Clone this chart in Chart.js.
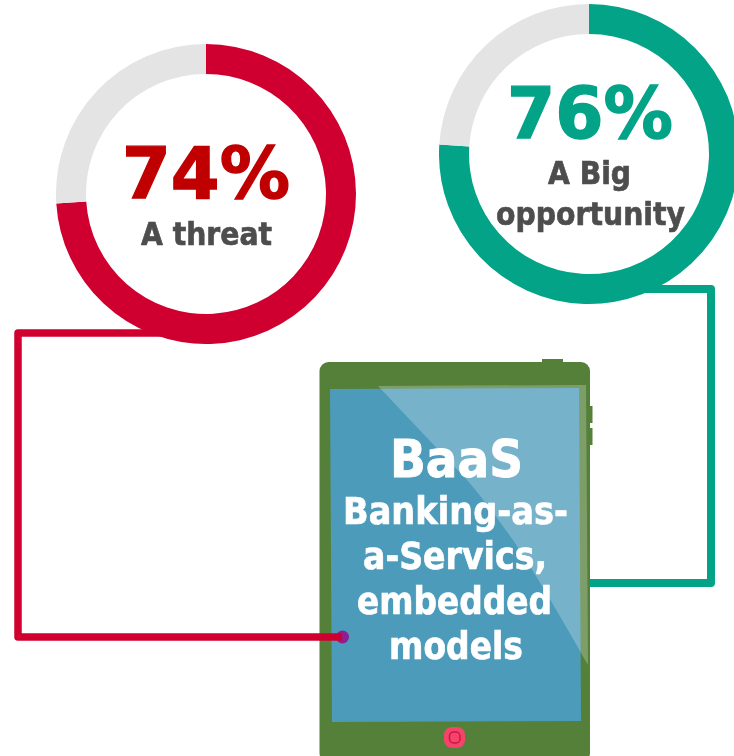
<!DOCTYPE html>
<html>
<head>
<meta charset="utf-8">
<title>BaaS</title>
<script src="https://cdn.jsdelivr.net/npm/chart.js@4"></script>
<style>
  html, body { margin: 0; padding: 0; background: #fff; }
  #page { position: relative; width: 734px; height: 756px; overflow: hidden; }
  #art { position: absolute; left: 0; top: 0; }
  .ring { position: absolute; width: 300px; height: 300px; }
  #threatRing { left: 56px; top: 44px; }
  #opportunityRing { left: 439px; top: 4px; }
  #labels { position: absolute; left: 0; top: 0; }
  #labels text { font-family: "DejaVu Sans", sans-serif; font-weight: 700; paint-order: stroke; }
  .big { stroke-width: 1.4px; }
  .mid { stroke-width: 0.9px; }
  .small { stroke-width: 0.7px; }
</style>
</head>
<body>
<div id="page">
  <svg id="art" width="734" height="756">
    <!-- teal connector runs behind the tablet -->
    <polyline points="645,289 711,289 711,583 585,583" fill="none" stroke="#03a388" stroke-width="8" stroke-linejoin="round"/>
    <!-- tablet -->
    <rect x="542" y="359" width="21" height="6" fill="#55803a"/>
    <rect x="588" y="406" width="4.5" height="17" fill="#55803a"/>
    <rect x="588" y="428" width="4.5" height="17" fill="#55803a"/>
    <rect x="319.5" y="362" width="270.5" height="400" rx="9" fill="#55803a"/>
    <polygon points="330,389 579,388 581,721 332,722" fill="#4c9bbb"/>
    <path d="M378,386 L586,385 L588,665 C560,615 530,565 513,540 C495,515 480,495 467,480 Z" fill="#fff" fill-opacity="0.24"/>
    <rect x="444" y="727" width="21" height="21" rx="8" fill="#f5446a"/>
    <rect x="449.5" y="732" width="10.5" height="11" rx="4" fill="none" stroke="#c8164a" stroke-width="1.5"/>
    <!-- red connector ends on the screen, over its dot -->
    <circle cx="342.5" cy="637" r="6.5" fill="#8f1f8f"/>
    <polyline points="165,333 18,333 18,637 342,637" fill="none" stroke="#cf0030" stroke-width="7.5" stroke-linejoin="round"/>
  </svg>
  <canvas id="threatRing" class="ring" width="300" height="300"></canvas>
  <canvas id="opportunityRing" class="ring" width="300" height="300"></canvas>
  <svg id="labels" width="734" height="756">
    <g fill="#c00000" stroke="#c00000"><text class="big" x="122" y="198" font-size="72" textLength="168" lengthAdjust="spacingAndGlyphs">74%</text></g>
    <g fill="#4d4d4d" stroke="#4d4d4d"><text class="small" x="141" y="245" font-size="32" textLength="131" lengthAdjust="spacingAndGlyphs">A threat</text></g>
    <g fill="#03a388" stroke="#03a388"><text class="big" x="507" y="138" font-size="72" textLength="166" lengthAdjust="spacingAndGlyphs">76%</text></g>
    <g fill="#4d4d4d" stroke="#4d4d4d">
      <text class="small" x="548" y="184" font-size="32" textLength="83" lengthAdjust="spacingAndGlyphs">A Big</text>
      <text class="small" x="496" y="225" font-size="32" textLength="189" lengthAdjust="spacingAndGlyphs">opportunity</text>
    </g>
    <g fill="#fff" stroke="#fff">
      <text class="mid" x="390" y="477" font-size="52" textLength="133" lengthAdjust="spacingAndGlyphs">BaaS</text>
      <text class="small" x="343" y="524" font-size="37" textLength="225" lengthAdjust="spacingAndGlyphs">Banking-as-</text>
      <text class="small" x="363" y="569" font-size="37" textLength="184" lengthAdjust="spacingAndGlyphs">a-Servics,</text>
      <text class="small" x="357" y="614" font-size="37" textLength="195" lengthAdjust="spacingAndGlyphs">embedded</text>
      <text class="small" x="389" y="659" font-size="37" textLength="134" lengthAdjust="spacingAndGlyphs">models</text>
    </g>
  </svg>
</div>
<script>
// survey shares shown on the two rings
const ringParts = ["Agree", "Rest"];
const threatValues = [74, 26];
const opportunityValues = [76, 24];
const threatColors = ["#cf0030", "#e4e4e4"];
const opportunityColors = ["#03a388", "#e4e4e4"];

function renderRing(canvasId, values, colors) {
  const canvas = document.getElementById(canvasId);
  if (!canvas) return;

  return new Chart(canvas.getContext("2d"), {
    type: "doughnut",
    data: {
      labels: ringParts,
      datasets: [
        {
          data: values,
          backgroundColor: colors,
          borderWidth: 0,
        },
      ],
    },
    options: {
      responsive: false,
      animation: false,
      cutout: "80%",
      plugins: { legend: { display: false }, tooltip: { enabled: false } },
    },
  });
}

renderRing("threatRing", threatValues, threatColors);
renderRing("opportunityRing", opportunityValues, opportunityColors);
</script>
</body>
</html>
